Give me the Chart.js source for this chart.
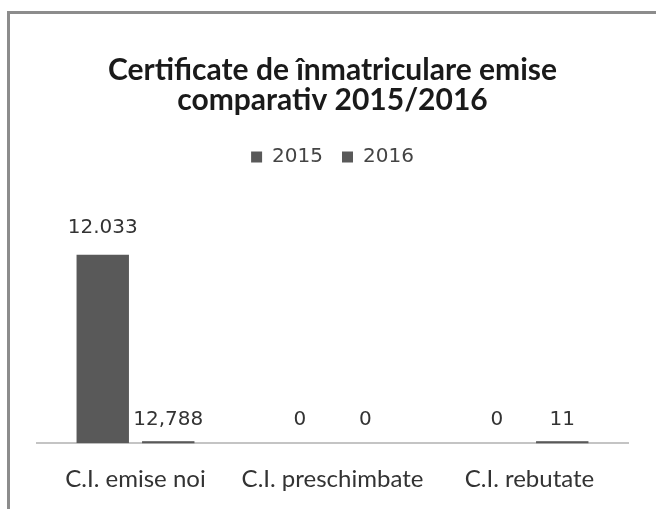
<!DOCTYPE html>
<html>
<head>
<meta charset="utf-8">
<script src="https://cdn.jsdelivr.net/npm/chart.js@4"></script>
<style>
  html, body { margin: 0; padding: 0; background: #fff; }
  #frame {
    position: absolute; left: 7px; top: 11px; width: 649px; height: 498px;
    border-left: 3px solid #8c8c8c; border-top: 3px solid #8c8c8c;
    background: #fff;
  }
  #wrap { width: 646px; height: 495px; }
</style>
</head>
<body>
<div id="frame"><div id="wrap"><canvas id="chart"></canvas></div></div>
<script>
const categories = ['C.I. emise noi', 'C.I. preschimbate', 'C.I. rebutate'];
const values2015 = [12033, 0, 0];
const values2016 = [12.788, 0, 11];
const seriesNames = ['2015', '2016'];
const yMax = 17000;

const barColor = '#595959';
const textFont = 'Lato, "Open Sans", sans-serif';
const numFont = '"DejaVu Sans", Verdana, sans-serif';

function formatValue(v) {
  return v.toLocaleString('ro-RO', { maximumFractionDigits: 3 });
}

// numbers over the bars + a thin line for the tiny non-zero bars
const valueLabels = {
  id: 'valueLabels',
  afterDatasetsDraw(chart) {
    const ctx = chart.ctx;
    ctx.save();
    ctx.font = '20px ' + numFont;
    ctx.textAlign = 'center';
    ctx.textBaseline = 'alphabetic';
    chart.data.datasets.forEach((ds, i) => {
      chart.getDatasetMeta(i).data.forEach((bar, j) => {
        const v = ds.data[j];
        if (v > 0 && bar.base - bar.y < 2) {
          ctx.fillStyle = barColor;
          ctx.fillRect(bar.x - bar.width / 2, bar.base - 2, bar.width, 2);
        }
        ctx.fillStyle = '#333';
        ctx.fillText(formatValue(v), bar.x, Math.min(bar.y, bar.base) - (v > 1000 ? 22 : 18));
      });
    });
    ctx.restore();
  }
};

new Chart(document.getElementById('chart'), {
  type: 'bar',
  data: {
    labels: categories,
    datasets: [
      { label: seriesNames[0], data: values2015, backgroundColor: barColor },
      { label: seriesNames[1], data: values2016, backgroundColor: barColor }
    ]
  },
  options: {
    responsive: true,
    maintainAspectRatio: false,
    animation: false,
    layout: { padding: { left: 27, right: 28, top: 0, bottom: 1 } },
    datasets: { bar: { categoryPercentage: 0.665, barPercentage: 0.8 } },
    plugins: {
      title: {
        display: true,
        text: ['Certificate de înmatriculare emise', 'comparativ 2015/2016'],
        color: '#1a1a1a',
        font: { family: textFont, size: 30, weight: 'bold', lineHeight: 1.0 },
        padding: { top: 41, bottom: 13 }
      },
      legend: {
        labels: {
          boxWidth: 11, boxHeight: 11, color: '#444',
          font: { family: numFont, size: 20 },
          padding: 19
        }
      },
      tooltip: { enabled: false }
    },
    scales: {
      x: {
        grid: { display: false },
        border: { display: true, color: '#c4c4c4', width: 2 },
        ticks: { color: '#333', font: { family: textFont, size: 24 }, padding: 14 }
      },
      y: { display: false, min: 0, max: yMax }
    }
  },
  plugins: [valueLabels]
});
</script>
</body>
</html>
